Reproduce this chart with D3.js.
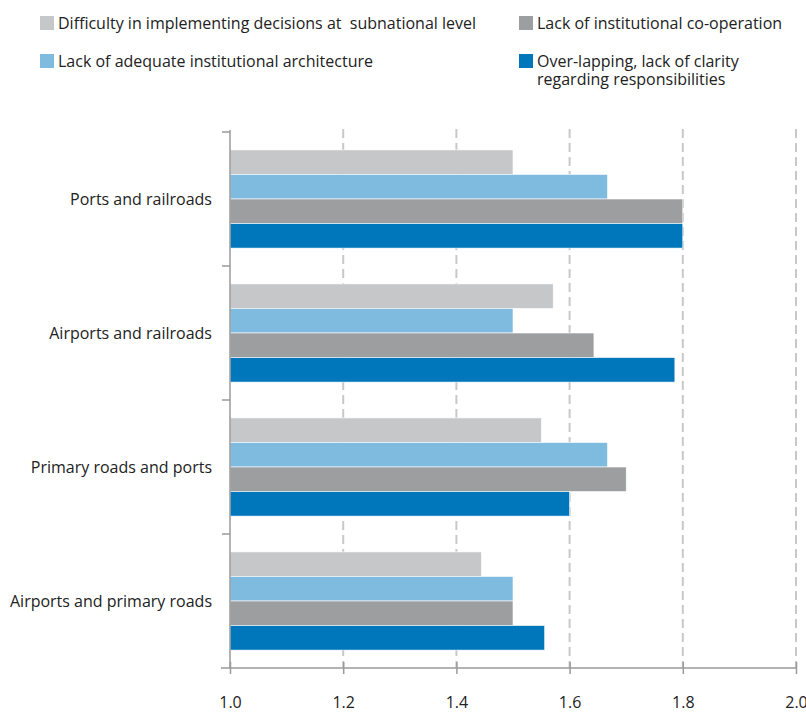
<!DOCTYPE html>
<html>
<head>
<meta charset="utf-8">
<script src="https://cdn.jsdelivr.net/npm/d3@7"></script>
<style>
  body { margin: 0; background: #fff; }
  svg text { font-family: "Open Sans", Lato, sans-serif; fill: #222; }
</style>
</head>
<body>
<svg id="chart" width="806" height="714"></svg>
<script>
// Infrastructure pairs (top to bottom)
const categories = [
  "Ports and railroads",
  "Airports and railroads",
  "Primary roads and ports",
  "Airports and primary roads"
];

// Series, in the order bars are stacked inside each group
const seriesNames = [
  "Difficulty in implementing decisions at  subnational level",
  "Lack of adequate institutional architecture",
  "Lack of institutional co-operation",
  "Over-lapping, lack of clarity regarding responsibilities"
];
const seriesColors = ["#c6c7c8", "#7fbadf", "#9d9ea0", "#0077bb"];

const difficultySubnational = [1.5, 1.571, 1.55, 1.444];
const lackArchitecture      = [1.667, 1.5, 1.667, 1.5];
const lackCooperation       = [1.8, 1.643, 1.7, 1.5];
const overlapping           = [1.8, 1.786, 1.6, 1.556];
const seriesValues = [difficultySubnational, lackArchitecture, lackCooperation, overlapping];

const xTicks = [1.0, 1.2, 1.4, 1.6, 1.8, 2.0];

const FONT = 16;
const svg = d3.select("#chart");
const margin = { left: 230, top: 132, bottom: 46 };
const W = 806, H = 714;

const x = d3.scaleLinear().domain([1.0, 2.0]).range([margin.left, 796]);
const y = d3.scaleBand().domain(categories).range([margin.top, H - margin.bottom]).padding(0);
const inner = d3.scaleBand().domain(d3.range(seriesNames.length))
  .range([0, y.bandwidth()]).paddingOuter(0.73).paddingInner(0);

// dashed vertical gridlines
svg.append("g").selectAll("line").data(xTicks.slice(1)).join("line")
  .attr("x1", d => x(d)).attr("x2", d => x(d))
  .attr("y1", margin.top - 3).attr("y2", H - margin.bottom)
  .attr("stroke", "#c8c8c8").attr("stroke-width", 2)
  .attr("stroke-dasharray", "9,5");

// bars
const rows = [];
categories.forEach((c, i) => seriesValues.forEach((vals, s) => rows.push({ c, s, v: vals[i] })));
svg.append("g").selectAll("rect").data(rows).join("rect")
  .attr("x", x(1.0))
  .attr("y", d => y(d.c) + inner(d.s))
  .attr("width", d => x(d.v) - x(1.0))
  .attr("height", inner.bandwidth())
  .attr("fill", d => seriesColors[d.s])
  .attr("stroke", "#ffffff").attr("stroke-width", 0.6);

// y axis: vertical line with ticks at band boundaries
const yAxisG = svg.append("g");
yAxisG.append("line")
  .attr("x1", x(1.0)).attr("x2", x(1.0))
  .attr("y1", margin.top - 2).attr("y2", H - margin.bottom)
  .attr("stroke", "#9a9a9a").attr("stroke-width", 1.5);
const bounds = categories.map(c => y(c));
yAxisG.selectAll("line.tk").data(bounds).join("line").attr("class", "tk")
  .attr("x1", x(1.0) - 8).attr("x2", x(1.0))
  .attr("y1", d => d).attr("y2", d => d)
  .attr("stroke", "#9a9a9a").attr("stroke-width", 1.5);
yAxisG.selectAll("text").data(categories).join("text")
  .attr("x", 212).attr("y", d => y(d) + y.bandwidth() / 2)
  .attr("text-anchor", "end").attr("dominant-baseline", "central")
  .attr("font-size", FONT).text(d => d);

// x axis
const xAxisG = svg.append("g").attr("transform", `translate(0,${H - margin.bottom})`);
xAxisG.call(d3.axisBottom(x).tickValues(xTicks).tickFormat(d3.format(".1f")).tickSizeInner(6).tickSizeOuter(0));
xAxisG.select(".domain").remove();
xAxisG.append("line").attr("x1", x(1.0) - 9).attr("x2", x(2.0))
  .attr("stroke", "#9a9a9a").attr("stroke-width", 1.5);
xAxisG.selectAll(".tick line").attr("y1", -6).attr("y2", 6)
  .attr("stroke", "#9a9a9a").attr("stroke-width", 1.5);
xAxisG.selectAll(".tick text").attr("y", 40).attr("dy", 0)
  .attr("font-size", FONT).attr("font-family", "'Open Sans', sans-serif").attr("fill", "#222");

// legend
const legendPos = [
  { x: 40, y: 16 }, { x: 40, y: 54 }, { x: 519, y: 16 }, { x: 519, y: 54 }
];
const legendLines = [
  [seriesNames[0]],
  [seriesNames[1]],
  [seriesNames[2]],
  ["Over-lapping, lack of clarity", "regarding responsibilities"]
];
const lg = svg.append("g");
legendPos.forEach((p, i) => {
  lg.append("rect").attr("x", p.x).attr("y", p.y).attr("width", 14).attr("height", 14)
    .attr("fill", seriesColors[i]);
  const t = lg.append("text").attr("x", p.x + 18).attr("y", p.y + 13).attr("font-size", FONT)
    .style("white-space", "pre");
  legendLines[i].forEach((ln, k) => {
    t.append("tspan").attr("x", p.x + 18).attr("dy", k === 0 ? 0 : 18).text(ln);
  });
});
</script>
</body>
</html>
